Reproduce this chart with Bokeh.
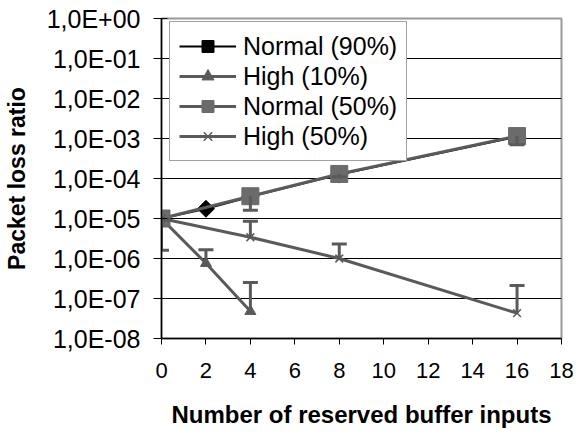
from bokeh.plotting import figure
from bokeh.models import ColumnDataSource, Whisker, TeeHead, FixedTicker, Range1d
from bokeh.embed import file_html
from bokeh.resources import INLINE

# ---- data ----
x_ticks = [0, 2, 4, 6, 8, 10, 12, 14, 16, 18]
y_ticks = [1e0, 1e-1, 1e-2, 1e-3, 1e-4, 1e-5, 1e-6, 1e-7, 1e-8]
y_tick_labels = ["1,0E+00", "1,0E-01", "1,0E-02", "1,0E-03", "1,0E-04",
                 "1,0E-05", "1,0E-06", "1,0E-07", "1,0E-08"]

labels = ["Normal (90%)", "High (10%)", "Normal (50%)", "High (50%)"]

n90_x = [0, 2, 4, 8, 16]
n90_y = [1.0e-5, 1.75e-5, 3.5e-5, 1.25e-4, 1.1e-3]

h10_x = [0, 2, 4]
h10_y = [1.0e-5, 7.6e-7, 4.8e-8]
h10_err_hi = [1.0e-5, 1.65e-6, 2.5e-7]

n50_x = [0, 4, 8, 16]
n50_y = [1.0e-5, 3.6e-5, 1.3e-4, 1.15e-3]
n50_err_lo = [1.6e-6, 1.6e-5, 1.1e-4, 7.0e-4]

h50_x = [0, 4, 8, 16]
h50_y = [1.0e-5, 3.4e-6, 1.0e-6, 4.3e-8]
h50_err_hi = [1.0e-5, 8.5e-6, 2.3e-6, 2.1e-7]

FONT = "Liberation Sans"
GRAY_LINE = "#5a5a5a"
GRAY_SQ = "#6b6b6b"

FW, FH = 400, 320

p = figure(output_backend="svg", toolbar_location=None,
           y_axis_type="log",
           x_range=Range1d(0, 18), y_range=Range1d(1e-8, 1),
           frame_width=FW, frame_height=FH,
           min_border_left=159, min_border_right=13,
           min_border_top=18, min_border_bottom=94)

p.background_fill_color = "white"
p.border_fill_color = "white"
p.outline_line_color = "#999999"
p.outline_line_width = 2

# grid
p.xgrid.grid_line_color = None
p.ygrid.grid_line_color = "#000000"
p.ygrid.grid_line_width = 1

# axes
p.xaxis.ticker = FixedTicker(ticks=x_ticks)
p.yaxis.ticker = FixedTicker(ticks=y_ticks)
p.yaxis.major_label_overrides = {t: l for t, l in zip(y_ticks, y_tick_labels)}
for ax in (p.xaxis, p.yaxis):
    ax.axis_line_color = "#000000"
    ax.axis_line_width = 1.5
    ax.major_tick_line_color = "#000000"
    ax.major_tick_line_width = 1
    ax.minor_tick_line_color = None
    ax.major_label_text_font = FONT
    ax.major_label_text_color = "#000000"
    ax.axis_label_text_font = FONT
    ax.axis_label_text_font_style = "bold"
    ax.axis_label_text_color = "#000000"

p.xaxis.major_tick_out = 6
p.xaxis.major_tick_in = 0
p.xaxis.major_label_standoff = 18
p.xaxis.major_label_text_font_size = "22px"
p.xaxis.axis_label = "Number of reserved buffer inputs"
p.xaxis.axis_label_text_font_size = "24px"
p.xaxis.axis_label_standoff = 20

p.yaxis.major_tick_out = 8
p.yaxis.major_tick_in = 6
p.yaxis.major_label_standoff = 13
p.yaxis.major_label_text_font_size = "25px"
p.yaxis.axis_label = "Packet loss ratio"
p.yaxis.axis_label_text_font_size = "23px"
p.yaxis.axis_label_standoff = 14

# series
s90 = ColumnDataSource(dict(x=n90_x, y=n90_y))
s10 = ColumnDataSource(dict(x=h10_x, y=h10_y, up=h10_err_hi))
s50 = ColumnDataSource(dict(x=n50_x, y=n50_y, lo=n50_err_lo))
sh50 = ColumnDataSource(dict(x=h50_x, y=h50_y, up=h50_err_hi))

# Normal (90%)
p.line("x", "y", source=s90, line_color="#000000", line_width=2, legend_label=labels[0])
p.scatter("x", "y", source=s90, marker="square", angle=0.785398, size=12,
          fill_color="#000000", line_color="#000000", legend_label=labels[0])

# High (10%)
p.line("x", "y", source=s10, line_color=GRAY_LINE, line_width=3, legend_label=labels[1])
p.scatter("x", "y", source=s10, marker="triangle", size=11,
          fill_color=GRAY_LINE, line_color=GRAY_LINE, legend_label=labels[1])

# Normal (50%)
p.line("x", "y", source=s50, line_color=GRAY_LINE, line_width=3, legend_label=labels[2])
p.scatter("x", "y", source=s50, marker="square", size=17,
          fill_color=GRAY_SQ, line_color=GRAY_SQ, legend_label=labels[2])

# High (50%)
p.line("x", "y", source=sh50, line_color=GRAY_LINE, line_width=3, legend_label=labels[3])
p.scatter("x", "y", source=sh50, marker="x", size=11,
          line_color=GRAY_LINE, line_width=1.5, legend_label=labels[3])

# error bars
w1 = Whisker(source=s10, base="x", upper="up", lower="y", dimension="height",
             line_color=GRAY_LINE, line_width=3,
             upper_head=TeeHead(size=15, line_width=3, line_color=GRAY_LINE),
             lower_head=None, level="glyph")
w2 = Whisker(source=s50, base="x", upper="y", lower="lo", dimension="height",
             line_color=GRAY_LINE, line_width=3,
             lower_head=TeeHead(size=15, line_width=3, line_color=GRAY_LINE),
             upper_head=None, level="glyph")
w3 = Whisker(source=sh50, base="x", upper="up", lower="y", dimension="height",
             line_color=GRAY_LINE, line_width=3,
             upper_head=TeeHead(size=15, line_width=3, line_color=GRAY_LINE),
             lower_head=None, level="glyph")
p.add_layout(w1)
p.add_layout(w2)
p.add_layout(w3)

# legend
lg = p.legend[0]
lg.location = (8, FH - 5 - 138)
lg.margin = 0
lg.padding = 9
lg.spacing = 0
lg.glyph_width = 57
lg.glyph_height = 30
lg.label_height = 30
lg.label_standoff = 7
lg.label_text_font = FONT
lg.label_text_font_size = "25px"
lg.label_text_color = "#000000"
lg.border_line_color = "#444444"
lg.border_line_width = 1
lg.background_fill_color = "white"
lg.background_fill_alpha = 1

open("out.html", "w").write(file_html(p, INLINE))
